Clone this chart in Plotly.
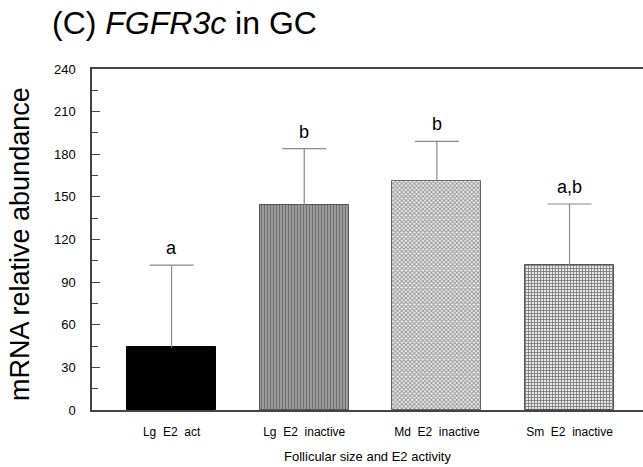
import plotly.graph_objects as go

categories = ["Lg  E2  act", "Lg  E2  inactive", "Md  E2  inactive", "Sm  E2  inactive"]
means = [44, 144, 161, 102]
sem_up = [58, 40, 28, 43]
letters = ["a", "b", "b", "a,b"]
y_ticks = [0, 30, 60, 90, 120, 150, 180, 210, 240]

patterns = [
    dict(shape="", fgcolor="black", bgcolor="black"),
    dict(shape="|", fgcolor="#3c3c3c", bgcolor="#a0a0a0", size=3, solidity=0.4),
    dict(shape="x", fgcolor="#303030", bgcolor="#f0f0f0", size=3, solidity=0.5),
    dict(shape="+", fgcolor="#111111", bgcolor="#e8e8e8", size=3, solidity=0.5),
]
fills = ["black", "#8a8a8a", "#d0d0d0", "#b0b0b0"]
outlines = ["black", "#555555", "#666666", "#555555"]

FONT = "Liberation Sans, Arial"
fig = go.Figure()
pos = list(range(len(categories)))
for i, c in enumerate(categories):
    fig.add_trace(go.Bar(
        x=[pos[i]], y=[means[i]], width=0.67,
        marker=dict(color=fills[i], pattern=patterns[i],
                    line=dict(color=outlines[i], width=1)),
        showlegend=False, hoverinfo="skip",
    ))

# upward-only error stems (no caps)
fig.add_trace(go.Scatter(
    x=pos, y=means, mode="markers", marker=dict(size=0.1, color="rgba(0,0,0,0)"),
    error_y=dict(type="data", array=sem_up, arrayminus=[0] * len(means),
                 symmetric=False, color="#8a8a8a", thickness=1.2, width=0),
    showlegend=False, hoverinfo="skip",
))
# caps at the top only
tops = [m + e for m, e in zip(means, sem_up)]
fig.add_trace(go.Scatter(
    x=pos, y=tops, mode="markers", marker=dict(size=0.1, color="rgba(0,0,0,0)"),
    error_y=dict(type="data", array=[0] * len(tops), color="#8a8a8a",
                 thickness=1.2, width=22),
    showlegend=False, hoverinfo="skip",
))

for i, t in enumerate(letters):
    fig.add_annotation(x=pos[i], y=tops[i], text=t, showarrow=False,
                       yanchor="bottom", yshift=5,
                       font=dict(family=FONT, size=18, color="black"))

fig.add_annotation(xref="paper", yref="paper", x=-0.127, y=0.487, xshift=-2,
                   text="mRNA relative abundance", textangle=-90, showarrow=False,
                   xanchor="center", yanchor="middle",
                   font=dict(family=FONT, size=27, color="black"))

fig.update_layout(
    width=643, height=467,
    margin=dict(l=92, r=0, t=69, b=57),
    paper_bgcolor="white", plot_bgcolor="white",
    title=dict(text="(C) <i>FGFR3c</i> in GC", x=52/643, xanchor="left",
               y=1 - 23/467, yanchor="middle",
               font=dict(family=FONT, size=32, color="black")),
    bargap=0,
)
fig.update_xaxes(
    range=[-0.6, 3.554], tickmode="array", tickvals=pos, ticktext=categories,
    showline=True, linecolor="#444", linewidth=1.5, mirror=True,
    ticks="", showgrid=False, zeroline=False, ticklabelstandoff=10,
    tickfont=dict(family=FONT, size=12, color="black"),
    title=dict(text="Follicular size and E2 activity", standoff=14,
               font=dict(family=FONT, size=13, color="black")),
)
fig.update_yaxes(
    range=[0, 240], tickmode="array", tickvals=y_ticks,
    showline=True, linecolor="#444", linewidth=1.5,
    ticks="inside", ticklen=8, tickcolor="#444", tickwidth=1.2,
    minor=dict(dtick=15, ticks="inside", ticklen=6, tickcolor="#444", tickwidth=1.2),
    showgrid=False, zeroline=False, ticklabelstandoff=12,
    tickfont=dict(family=FONT, size=13, color="black"),
)

fig.write_html("out.html", config={"displayModeBar": False},
               post_script="document.body.style.margin='0';")
